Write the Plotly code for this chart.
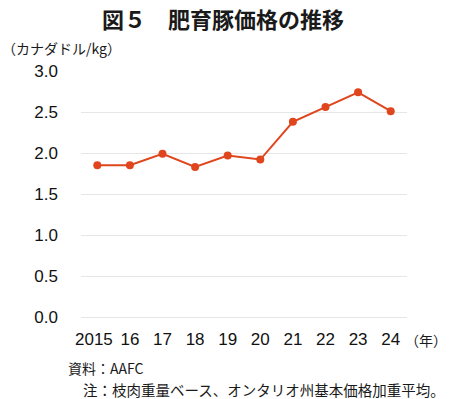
import plotly.graph_objects as go

years = ["2015", "16", "17", "18", "19", "20", "21", "22", "23", "24"]
prices = [1.85, 1.85, 1.99, 1.83, 1.97, 1.92, 2.38, 2.56, 2.74, 2.51]
y_ticks = [0.0, 0.5, 1.0, 1.5, 2.0, 2.5, 3.0]
y_tick_labels = ["0.0", "0.5", "1.0", "1.5", "2.0", "2.5", "3.0"]

JP = "Noto Sans CJK JP, sans-serif"
NUM = "Liberation Sans, Arial, sans-serif"
COLOR = "#E0461E"

W, H = 450, 399
ML, MR, MT, MB = 81, 43, 71, 82

fig = go.Figure()
fig.add_trace(go.Scatter(
    x=years, y=prices, mode="lines+markers",
    line=dict(color=COLOR, width=2),
    marker=dict(color=COLOR, size=8),
    showlegend=False, cliponaxis=False,
))


def px(xp, yp):
    return (xp - ML) / (W - ML - MR), 1 - (yp - MT) / (H - MT - MB)


def ann(text, xp, yp, anchor, size, bold=False):
    x, y = px(xp, yp)
    return dict(text=f"<b>{text}</b>" if bold else text, x=x, y=y,
                xref="paper", yref="paper", xanchor=anchor, yanchor="middle",
                showarrow=False, font=dict(family=JP, size=size, color="#1a1a1a"))


anns = [
    ann("図５　肥育豚価格の推移", 223, 18, "center", 22, bold=True),
    ann("（カナダドル/kg）", 0, 48, "left", 14),
    ann("（年）", 449, 340, "right", 14),
    ann("資料：AAFC", 66, 368, "left", 14),
    ann("注：枝肉重量ベース、オンタリオ州基本価格加重平均。", 81, 389, "left", 14.5),
]

x_tick_text = [years[0] + "&#8201;&#8201;"] + years[1:]

fig.update_layout(
    width=W, height=H,
    margin=dict(l=ML, r=MR, t=MT, b=MB),
    paper_bgcolor="white", plot_bgcolor="white",
    font=dict(family=JP, color="#1a1a1a", size=15),
    xaxis=dict(
        type="category", range=[-0.5, 9.5],
        tickvals=years, ticktext=x_tick_text, tickangle=0,
        showgrid=False, showline=False, zeroline=False,
        ticks="", ticklabelstandoff=10,
        tickfont=dict(family=NUM, size=17, color="#111111"),
    ),
    yaxis=dict(
        range=[0, 3.0], tickvals=y_ticks, ticktext=y_tick_labels,
        showgrid=True, gridcolor="#E6E6E6", gridwidth=1,
        zeroline=True, zerolinecolor="#E6E6E6", zerolinewidth=1,
        showline=False, ticks="", ticklabelstandoff=22,
        tickfont=dict(family=NUM, size=17, color="#111111"),
    ),
    annotations=anns,
)

fig.write_html("out.html", config={"displayModeBar": False},
               post_script="document.body.style.margin='0';")
